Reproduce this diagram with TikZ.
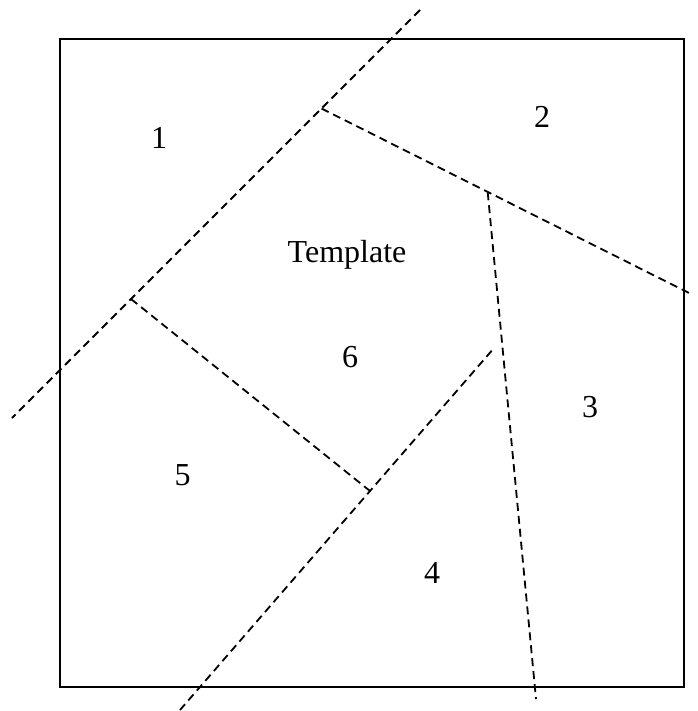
\documentclass[tikz,border=0pt]{standalone}
\usepackage{fontspec}
\setmainfont{Liberation Serif}
\begin{document}
\begin{tikzpicture}[x=1pt,y=-1pt,
  frame/.style={draw=black,line width=2.2pt},
  cut/.style={draw=black,line width=1.8pt,dash pattern=on 8pt off 5pt},
  lbl/.style={font=\fontsize{32}{38}\selectfont,inner sep=0pt}]
\useasboundingbox (0,0) rectangle (697,711);
\draw[frame] (60,39) rectangle (684,687);
% coordinates
\coordinate (a1) at (420,10);
\coordinate (a2) at (12,418);
\coordinate (j1) at (321.5,108.5);
\coordinate (j15) at (131,299);
\coordinate (b2) at (693,295);
\coordinate (j2) at (487.7,192.3);
\coordinate (c2) at (536,699);
\coordinate (d1) at (491.7,350.7);
\coordinate (j45) at (370,491);
\coordinate (d2) at (180,710);
% dashed cuts
\draw[cut] (a1) -- (a2);
\draw[cut] (j1) -- (b2);
\draw[cut] (j2) -- (c2);
\draw[cut] (j15) -- (j45);
\draw[cut] (d1) -- (d2);
% labels
\node[lbl] (n1) at (159,138) {1};
\node[lbl] (n2) at (542,117) {2};
\node[lbl] (n3) at (590,407) {3};
\node[lbl] (n4) at (432,573) {4};
\node[lbl] (n5) at (182.5,475) {5};
\node[lbl] (n6) at (350,357) {6};
\node[lbl,anchor=base] (tp) at (347,262) {Template};
\end{tikzpicture}
\end{document}
